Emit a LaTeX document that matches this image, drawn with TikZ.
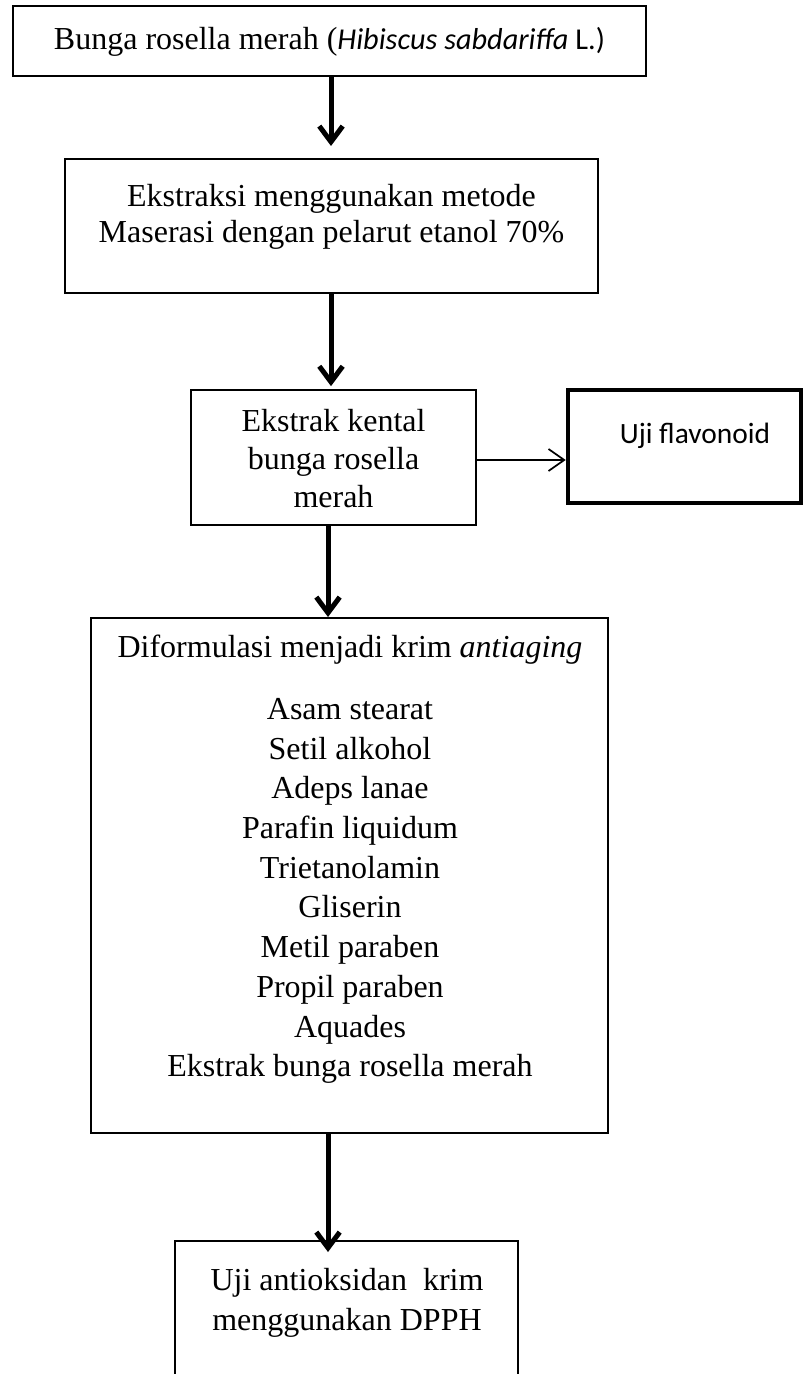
\documentclass[tikz,border=0pt]{standalone}
\usepackage{fontspec}
\setmainfont{Liberation Serif}
\newfontfamily\calibri{Carlito}
\usetikzlibrary{arrows.meta}
\begin{document}
\begin{tikzpicture}[x=0.35pt,y=-0.35pt,
  box/.style={draw, line width=0.7pt, rectangle, inner sep=0pt},
  thickbox/.style={draw, line width=1.6pt, rectangle, inner sep=0pt},
  txt/.style={align=center, inner sep=0pt, font=\fontsize{11.2pt}{13.8pt}\selectfont},
  flow/.style={line width=1.75pt, -{Straight Barb[length=5.5pt,width=8.2pt]}},
  side/.style={line width=0.6pt, -{Straight Barb[length=5.5pt,width=7.7pt]}}]
\useasboundingbox (0,0) rectangle (804,1374);
\fill[white] (0,0) rectangle (804,1374);
\begin{scope}
\clip (0,0) rectangle (804,1374);
% boxes
\node[box, minimum width=221.55pt, minimum height=24.5pt] (box1) at (329.5,41) {};
\node[box, minimum width=186.55pt, minimum height=46.9pt] (box2) at (331.5,226) {};
\node[box, minimum width=99.75pt, minimum height=47.25pt] (box3) at (333.5,457.5) {};
\node[thickbox, minimum width=81.55pt, minimum height=39.55pt] (uji) at (684.5,446.5) {};
\node[box, minimum width=180.95pt, minimum height=180.25pt] (box4) at (349.5,875.5) {};
\node[box, minimum width=120.05pt, minimum height=70pt] (box5) at (346.5,1341) {};
% texts
\node[txt] (t1) at (329.5,42) {Bunga rosella merah ({\calibri\fontsize{10.6pt}{13pt}\selectfont\itshape Hibiscus sabdariffa}{\calibri\fontsize{10.6pt}{13pt}\selectfont{} L.)}};
\node[txt, font=\fontsize{11.2pt}{12.6pt}\selectfont] (t2) at (331.5,217) {Ekstraksi menggunakan metode\\Maserasi dengan pelarut etanol 70\%};
\node[txt, font=\fontsize{11.2pt}{13.3pt}\selectfont] (t3) at (333.5,459) {Ekstrak kental\\bunga rosella\\merah};
\node[inner sep=0pt, font=\calibri\fontsize{10.3pt}{12.4pt}\selectfont] (t4) at (695,435.5) {Uji flavonoid};
\node[txt] (t5) at (350,649.5) {Diformulasi menjadi krim \textit{antiaging}};
\node[txt, font=\fontsize{11.2pt}{13.9pt}\selectfont] (t6) at (350,891) {Asam stearat\\Setil alkohol\\Adeps lanae\\Parafin liquidum\\Trietanolamin\\Gliserin\\Metil paraben\\Propil paraben\\Aquades\\Ekstrak bunga rosella merah};
\node[txt, font=\fontsize{11.2pt}{14pt}\selectfont] (t7) at (347,1302.5) {Uji antioksidan\ \ krim\\menggunakan DPPH};
% connectors
\coordinate (ax1) at (331,0);
\coordinate (ax2) at (328,0);
\coordinate (ay) at (0,460);
\draw[flow, shorten >=4.2pt] (box1.south -| ax1) -- (box2.north -| ax1);
\draw[flow, shorten >=1pt] (box2.south -| ax1) -- (box3.north -| ax1);
\draw[flow] (box3.south -| ax2) -- (box4.north -| ax2);
\draw[flow, shorten >=-4.2pt] (box4.south -| ax2) -- (box5.north -| ax2);
\draw[side] (box3.east |- ay) -- (uji.west |- ay);
\end{scope}
\end{tikzpicture}
\end{document}
